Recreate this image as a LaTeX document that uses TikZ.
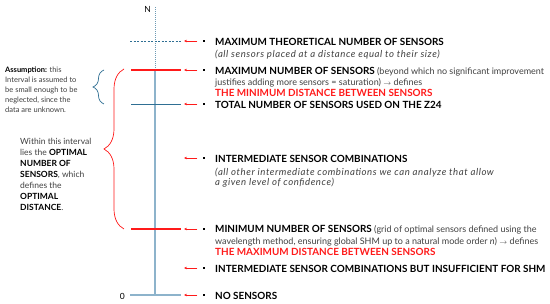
\documentclass[tikz,border=0pt]{standalone}
\usepackage{fontspec}
\setmainfont{Lato}
\usetikzlibrary{arrows.meta, decorations.pathreplacing}

\definecolor{axisblue}{HTML}{8DB3CB}
\definecolor{lineblue}{HTML}{2F6F93}
\definecolor{txtgray}{HTML}{404040}
\definecolor{markred}{HTML}{FF1A1A}

\newcommand\itemhead[1]{{\fontsize{9.9}{11}\selectfont\bfseries\color{black}#1}}
\newcommand\itemwarn[1]{{\fontsize{9.9}{11}\selectfont\bfseries\color{markred}#1}}
\newcommand\itemnote[1]{{\fontsize{9.6}{11}\selectfont\itshape\addfontfeature{LetterSpace=6}#1}}

\begin{document}
\begin{tikzpicture}[x=1pt, y=-1pt,
  lvl/.style={line width=2pt, markred},
  ptr/.style={-{Stealth[length=3pt, width=2.6pt]}, markred, line width=0.6pt},
  dot/.style={fill=black, minimum size=2.8pt, inner sep=0pt},
  item/.style={anchor=base west, inner sep=0pt, align=left,
               font=\fontsize{9}{11}\selectfont, text=txtgray},
  note/.style={anchor=base west, inner sep=0pt, align=left,
               font=\fontsize{7.5}{10}\selectfont, text=txtgray}
]
  \useasboundingbox (0,0) rectangle (550,304);

  % axis
  \coordinate (top)  at (155,7);
  \coordinate (sat)  at (155,70);
  \coordinate (zero) at (155,295);
  \draw[axisblue, line width=1.3pt] (zero) -- (sat);
  \draw[lineblue!70, line width=1pt, dash pattern=on 0.8pt off 1.2pt] (sat) -- (top);
  \node[anchor=east, inner sep=1pt, font=\fontsize{8.5}{8}\selectfont] (N) at (152,9) {N};
  \node[anchor=east, inner sep=1pt, font=\fontsize{8.5}{8}\selectfont] (zlbl) at (126,296) {0};

  % levels on the axis
  \draw[lineblue, line width=0.7pt, dash pattern=on 2pt off 1.5pt] (130,41) -- (182,41);
  \draw[lvl] (131,70) -- (181,70);
  \draw[lineblue, line width=0.8pt] (131,104) -- (181,104);
  \draw[lvl] (131,229) -- (181,229);
  \draw[axisblue, line width=1.3pt] (130,295) -- (181,295);

  % pointers and bullets
  \foreach \y [count=\i] in {41,70,104,158,229,268,295} {
    \node[dot] (b\i) at (204,\y) {};
    \coordinate (e\i) at (184,\y);
    \draw[ptr] ([xshift=-5pt]b\i.west) -- (e\i);
  }

  % descriptions (anchored on the baseline of their last line)
  \node[item] (t1) at (215,57.5) {\itemhead{MAXIMUM THEORETICAL NUMBER OF SENSORS}\\[1pt]
    \itemnote{(all sensors placed at a distance equal to their size)}};
  \node[item] (t2) at (215,96.5) {\itemhead{MAXIMUM NUMBER OF SENSORS} (beyond which no significant improvement\\
    justifies adding more sensors = saturation) {\scriptsize$\rightarrow$} defines\\
    \itemwarn{THE MINIMUM DISTANCE BETWEEN SENSORS}};
  \node[item] (t3) at (215,108.5) {\itemhead{TOTAL NUMBER OF SENSORS USED ON THE Z24}};
  \node[item] (t4) at (215,185.5) {\itemhead{INTERMEDIATE SENSOR COMBINATIONS}\\[2pt]
    \itemnote{(all other intermediate combinations we can analyze that allow}\\[-1pt]
    \itemnote{a given level of confidence)}};
  \node[item] (t5) at (215,255.5) {\itemhead{MINIMUM NUMBER OF SENSORS} (grid of optimal sensors defined using the\\[1pt]
    wavelength method, ensuring global SHM up to a natural mode order \textit{n}) {\scriptsize$\rightarrow$} defines\\
    \itemwarn{THE MAXIMUM DISTANCE BETWEEN SENSORS}};
  \node[item] (t6) at (215,272.5) {\itemhead{INTERMEDIATE SENSOR COMBINATIONS BUT INSUFFICIENT FOR SHM}};
  \node[item] (t7) at (215,299.5) {\itemhead{NO SENSORS}};

  % braces and notes on the left
  \draw[lineblue, line width=0.7pt, decorate, decoration={brace, amplitude=11pt}] (104,104) -- (104,70);
  \draw[markred, line width=0.7pt, decorate, decoration={brace, amplitude=20pt}] (124,229) -- (124,69);

  \node[note] (assume) at (5,113) {\textbf{\color{black}Assumption:} this\\
    Interval is assumed to\\ be small enough to be\\ neglected, since the\\ data are unknown.};
  \node[note, font=\fontsize{8.5}{11}\selectfont] (within) at (20,211) {Within this interval\\
    lies the \textbf{\color{black}OPTIMAL}\\ \textbf{\color{black}NUMBER OF}\\
    \textbf{\color{black}SENSORS}, which\\ defines the\\ \textbf{\color{black}OPTIMAL}\\
    \textbf{\color{black}DISTANCE}.};
\end{tikzpicture}
\end{document}
